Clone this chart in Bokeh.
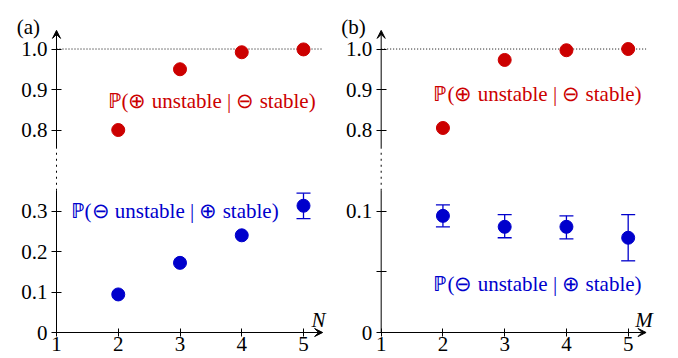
from bokeh.plotting import figure
from bokeh.layouts import row
from bokeh.models import FixedTicker, Arrow, VeeHead, TeeHead, Whisker, Label, ColumnDataSource
from bokeh.embed import file_html
from bokeh.resources import INLINE

# ---------------- data ----------------
# panel (a): versus N
N = [2, 3, 4, 5]
pa_plus = [0.800, 0.950, 0.992, 0.999]     # P(+ unstable | - stable)
pa_minus = [0.094, 0.172, 0.240, 0.313]    # P(- unstable | + stable)
pa_err_x = [5]
pa_err_lo = [0.281]
pa_err_hi = [0.344]

# panel (b): versus M
M = [2, 3, 4, 5]
pb_plus = [0.805, 0.973, 0.997, 1.000]
pb_minus = [0.096, 0.087, 0.087, 0.078]
pb_err_x = [2, 3, 4, 5]
pb_err_lo = [0.087, 0.078, 0.077, 0.059]
pb_err_hi = [0.105, 0.097, 0.096, 0.097]

ref_level = 1.0
x_ticks = [1, 2, 3, 4, 5]
a_low_ticks = [0, 0.1, 0.2, 0.3]
a_low_labels = ["0", "0.1", "0.2", "0.3"]
b_low_ticks = [0, 0.05, 0.1]
b_low_labels = ["0", "", "0.1"]
up_ticks = [0.8, 0.9, 1.0]
up_labels = ["0.8", "0.9", "1.0"]

label_plus = "ℙ(⊕ unstable | ⊖ stable)"
label_minus = "ℙ(⊖ unstable | ⊕ stable)"

RED = "#cc0000"
BLUE = "#0000cc"
FONT = "Liberation Serif"
FS = "21px"
UP_SHIFT = 0.30
W, H = 339, 358
PX_X = 61.75
LBL_UP = 0.013


def panel(xs, plus, minus, ex, elo, ehi, low_ticks, low_labels, low_scale,
          x_start, tag, xname, red_pos, blue_pos, name_x, axis_end):
    low = lambda v: round(v * low_scale, 6)
    up = lambda v: round(v - UP_SHIFT, 6)

    p = figure(width=W, height=H, x_range=(x_start, x_start + W / PX_X),
               y_range=(-0.0642, 0.8198), output_backend="svg",
               toolbar_location=None, title=None, min_border=0)
    p.outline_line_color = None
    p.xgrid.visible = False
    p.ygrid.visible = False
    p.background_fill_color = "white"
    p.border_fill_color = "white"

    p.xaxis.fixed_location = 0
    p.yaxis.fixed_location = 1
    for ax in (p.xaxis[0], p.yaxis[0]):
        ax.axis_line_color = None
        ax.major_tick_line_color = "black"
        ax.minor_tick_line_color = None
        ax.major_label_text_font = FONT
        ax.major_label_text_font_size = FS
        ax.major_label_text_color = "black"
    p.xaxis.ticker = FixedTicker(ticks=x_ticks)
    p.xaxis.major_tick_in = 4
    p.xaxis.major_tick_out = 4
    p.xaxis.major_label_standoff = 0

    yt = [low(t) for t in low_ticks] + [up(t) for t in up_ticks]
    p.yaxis.ticker = FixedTicker(ticks=yt)
    p.yaxis.major_label_overrides = dict(zip(yt, low_labels + up_labels))
    p.yaxis.major_tick_in = 5
    p.yaxis.major_tick_out = 5
    p.yaxis.major_label_standoff = 4

    # reference dotted line
    p.segment(x0=[1], y0=[up(ref_level)], x1=[axis_end], y1=[up(ref_level)],
              line_dash="1 2", line_color="black", line_width=1)

    # axis lines with break
    p.segment(x0=[1], y0=[0], x1=[1], y1=[0.35], line_color="black", line_width=1)
    p.segment(x0=[1], y0=[0.35], x1=[1], y1=[0.454], line_color="black",
              line_width=1, line_dash="2 4")
    head = dict(size=8, fill_color="black", line_color="black", line_width=1)
    p.add_layout(Arrow(end=VeeHead(**head), x_start=1, y_start=0.454, x_end=1,
                       y_end=0.746, line_color="black", line_width=1))
    p.add_layout(Arrow(end=VeeHead(**head), x_start=1, y_start=0, x_end=axis_end,
                       y_end=0, line_color="black", line_width=1))

    # error bars
    src = ColumnDataSource(dict(base=ex, lower=[low(v) for v in elo],
                                upper=[low(v) for v in ehi]))
    tee = dict(size=14, line_color=BLUE, line_width=1.3)
    p.add_layout(Whisker(base="base", lower="lower", upper="upper", source=src,
                         dimension="height", line_color=BLUE, line_width=1.3,
                         upper_head=TeeHead(**tee), lower_head=TeeHead(**tee)))

    p.scatter(xs, [up(v) for v in plus], size=13, color=RED)
    p.scatter(xs, [low(v) for v in minus], size=13, color=BLUE)

    p.add_layout(Label(x=0.355, y=0.754, text=tag, text_font=FONT,
                       text_font_size=FS, text_baseline="alphabetic", text_color="black"))
    p.add_layout(Label(x=red_pos[0], y=red_pos[1] + LBL_UP, text=label_plus, text_font=FONT,
                       text_font_size=FS, text_baseline="alphabetic", text_color=RED))
    p.add_layout(Label(x=blue_pos[0], y=blue_pos[1] + LBL_UP, text=label_minus, text_font=FONT,
                       text_font_size=FS, text_baseline="alphabetic", text_color=BLUE))
    p.add_layout(Label(x=name_x, y=0.03, text=xname, text_font=FONT,
                       text_font_size=FS, text_font_style="italic",
                       text_baseline="alphabetic", text_color="black"))
    return p


pa = panel(N, pa_plus, pa_minus, pa_err_x, pa_err_lo, pa_err_hi,
           a_low_ticks, a_low_labels, 1.0, 0.0931, "(a)", "N",
           (1.826, 0.558), (1.227, 0.286), 5.13, 5.31)
pb = panel(M, pb_plus, pb_minus, pb_err_x, pb_err_lo, pb_err_hi,
           b_low_ticks, b_low_labels, 3.0, 0.325, "(b)", "M",
           (1.846, 0.577), (1.846, 0.107), 5.115, 5.29)

layout = row(pa, pb)
open("out.html", "w").write(file_html(layout, INLINE))
